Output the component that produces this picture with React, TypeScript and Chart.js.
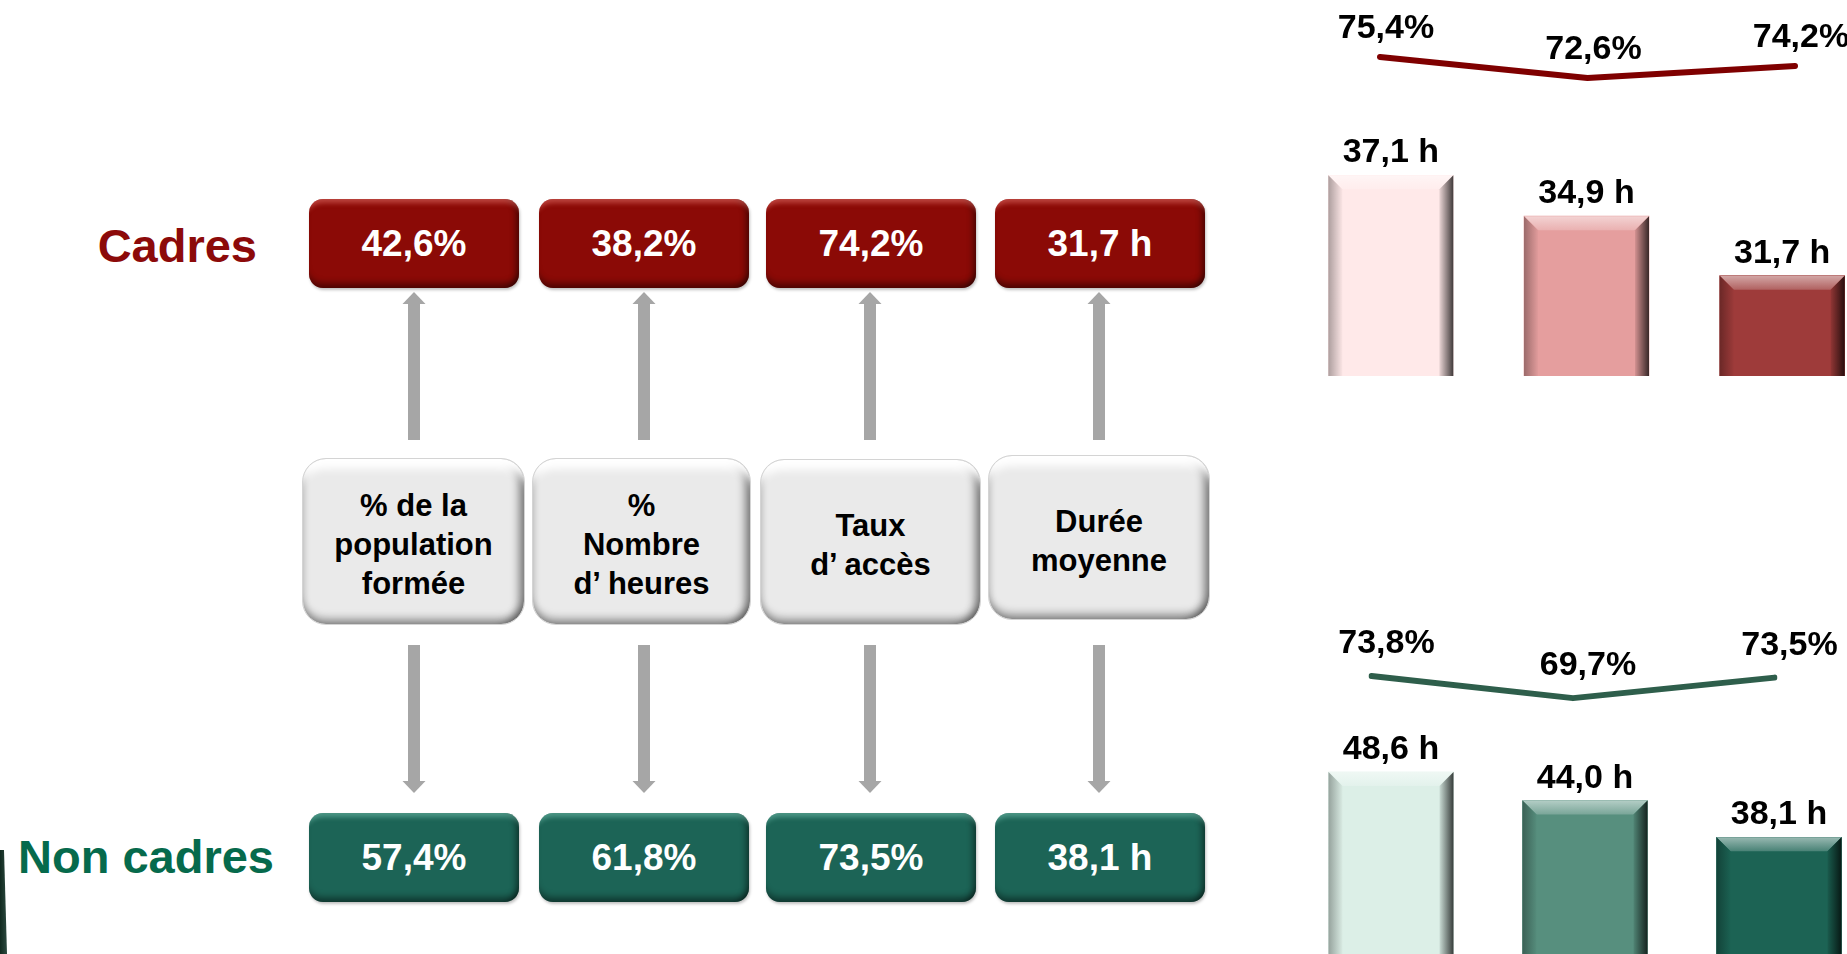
import React, { useEffect, useRef } from "react";
import { Chart, registerables } from "chart.js";

Chart.register(...registerables);

// ---------------- DATA ----------------
const metricLabels: string[][] = [
  ["% de la", "population", "formée"],
  ["%", "Nombre", "d’ heures"],
  ["Taux", "d’ accès"],
  ["Durée", "moyenne"],
];
const metricUnits = ["%", "%", "%", " h"];
const cadresMetrics = [42.6, 38.2, 74.2, 31.7];
const nonCadresMetrics = [57.4, 61.8, 73.5, 38.1];

const periods = ["1", "2", "3"];
const cadresHours = [37.1, 34.9, 31.7];
const cadresAccess = [75.4, 72.6, 74.2];
const nonCadresHours = [48.6, 44.0, 38.1];
const nonCadresAccess = [73.8, 69.7, 73.5];

// ---------------- STYLE ----------------
const FONT = '"Liberation Sans", Arial, Helvetica, sans-serif';
const RED = "#8B0A06";
const GREEN = "#1C6456";
const cadresBarColors = ["#FFE9E9", "#E59E9E", "#9E3B3A"];
const nonCadresBarColors = ["#DCEFE7", "#578F7E", "#1C6354"];

const fmt = (v: number, unit: string) => v.toFixed(1).replace(".", ",") + unit;

function hexToRgb(h: string) {
  const s = h.replace("#", "");
  return [parseInt(s.slice(0, 2), 16), parseInt(s.slice(2, 4), 16), parseInt(s.slice(4, 6), 16)];
}
function mix(c: string, target: "white" | "black", t: number) {
  const [r, g, b] = hexToRgb(c);
  const v = target === "white" ? 255 : 0;
  const m = (x: number) => Math.round(x + (v - x) * t);
  return `rgb(${m(r)},${m(g)},${m(b)})`;
}

const bevelPlugin = {
  id: "bevel",
  afterDatasetsDraw(chart: any) {
    const ctx = chart.ctx;
    chart.data.datasets.forEach((ds: any, di: number) => {
      const meta = chart.getDatasetMeta(di);
      if (meta.type !== "bar") return;
      meta.data.forEach((bar: any, i: number) => {
        const p = bar.getProps(["x", "y", "base", "width"], true);
        const L = p.x - p.width / 2;
        const R = p.x + p.width / 2;
        const T = Math.min(p.y, p.base);
        const B = Math.max(p.y, p.base);
        const b = Math.min(14, p.width / 4, (B - T) / 4);
        const color = ds.backgroundColor[i];
        ctx.save();
        // top
        let g = ctx.createLinearGradient(0, T, 0, T + b);
        g.addColorStop(0, mix(color, "white", 0.55));
        g.addColorStop(1, mix(color, "white", 0.2));
        ctx.fillStyle = g;
        ctx.beginPath();
        ctx.moveTo(L, T); ctx.lineTo(R, T); ctx.lineTo(R - b, T + b); ctx.lineTo(L + b, T + b); ctx.closePath();
        ctx.fill();
        // left
        g = ctx.createLinearGradient(L, 0, L + b, 0);
        g.addColorStop(0, mix(color, "black", 0.32));
        g.addColorStop(1, mix(color, "black", 0.02));
        ctx.fillStyle = g;
        ctx.beginPath();
        ctx.moveTo(L, T); ctx.lineTo(L + b, T + b); ctx.lineTo(L + b, B - b); ctx.lineTo(L, B); ctx.closePath();
        ctx.fill();
        // right
        g = ctx.createLinearGradient(R - b, 0, R, 0);
        g.addColorStop(0, mix(color, "black", 0.08));
        g.addColorStop(1, mix(color, "black", 0.75));
        ctx.fillStyle = g;
        ctx.beginPath();
        ctx.moveTo(R, T); ctx.lineTo(R, B); ctx.lineTo(R - b, B - b); ctx.lineTo(R - b, T + b); ctx.closePath();
        ctx.fill();
        // bottom
        g = ctx.createLinearGradient(0, B - b, 0, B);
        g.addColorStop(0, mix(color, "black", 0.18));
        g.addColorStop(1, mix(color, "black", 0.5));
        ctx.fillStyle = g;
        ctx.beginPath();
        ctx.moveTo(L, B); ctx.lineTo(R, B); ctx.lineTo(R - b, B - b); ctx.lineTo(L + b, B - b); ctx.closePath();
        ctx.fill();
        ctx.restore();
      });
    });
  },
};

const valueLabelPlugin = {
  id: "valueLabels",
  afterDatasetsDraw(chart: any, _args: any, opts: any) {
    const ctx = chart.ctx;
    const meta = chart.getDatasetMeta(0);
    const values = chart.data.datasets[0].data;
    ctx.save();
    ctx.font = `bold 34px ${FONT}`;
    ctx.fillStyle = "#000000";
    ctx.textAlign = "center";
    ctx.textBaseline = "alphabetic";
    meta.data.forEach((el: any, i: number) => {
      ctx.fillText(fmt(values[i], opts.unit), el.x + opts.dx, el.y + opts.dy);
    });
    ctx.restore();
  },
};

function barConfig(values: number[], colors: string[], min: number, max: number) {
  return {
    type: "bar",
    data: {
      labels: periods,
      datasets: [{ data: values, backgroundColor: colors, borderWidth: 0, barThickness: 125 }],
    },
    options: {
      animation: false,
      responsive: false,
      devicePixelRatio: 1,
      layout: { padding: 0 },
      scales: {
        x: { display: false },
        y: { display: false, min, max },
      },
      plugins: {
        legend: { display: false },
        tooltip: { enabled: false },
        valueLabels: { unit: " h", dx: 0, dy: -13 },
      },
    },
    plugins: [bevelPlugin, valueLabelPlugin],
  };
}

function lineConfig(values: number[], color: string, min: number, max: number, padL: number, padR: number, dx: number, dy: number) {
  return {
    type: "line",
    data: {
      labels: periods,
      datasets: [
        {
          data: values,
          borderColor: color,
          borderWidth: 6,
          pointRadius: 0,
          tension: 0,
          fill: false,
          borderCapStyle: "round",
          borderJoinStyle: "round",
        },
      ],
    },
    options: {
      animation: false,
      responsive: false,
      devicePixelRatio: 1,
      layout: { padding: { left: padL, right: padR, top: 0, bottom: 0 } },
      scales: {
        x: { display: false, offset: false },
        y: { display: false, min, max },
      },
      plugins: {
        legend: { display: false },
        tooltip: { enabled: false },
        valueLabels: { unit: "%", dx, dy },
      },
    },
    plugins: [valueLabelPlugin],
  };
}

function ChartBox({ left, top, width, height, config }: any) {
  const ref = useRef<HTMLCanvasElement | null>(null);
  useEffect(() => {
    const chart = new Chart(ref.current as HTMLCanvasElement, config);
    return () => chart.destroy();
  }, []);
  return (
    <div style={{ position: "absolute", left, top, width, height }}>
      <canvas ref={ref} width={width} height={height} style={{ width, height, display: "block" }} />
    </div>
  );
}

// ---------------- LAYOUT ----------------
const colCenters = [414, 644, 870, 1099];
const valueBoxLefts = [309, 539, 766, 995];
const grayBoxes = [
  { l: 302, w: 223, t: 458, h: 167 },
  { l: 532, w: 219, t: 458, h: 167 },
  { l: 760, w: 221, t: 459, h: 166 },
  { l: 988, w: 222, t: 455, h: 165 },
];

function ValueBox({ left, top, color, highlight, text }: any) {
  return (
    <div
      style={{
        position: "absolute",
        left,
        top,
        width: 210,
        height: 89,
        borderRadius: 14,
        background: color,
        boxShadow: `inset 0 11px 5px -7px ${highlight}, inset -6px 0 6px -3px rgba(0,0,0,0.45), inset 0 -9px 6px -4px rgba(0,0,0,0.4), 1px 2px 3px rgba(0,0,0,0.25)`,
        display: "flex",
        alignItems: "center",
        justifyContent: "center",
        color: "#ffffff",
        fontFamily: FONT,
        fontWeight: 700,
        fontSize: 37,
        lineHeight: 1,
      }}
    >
      {text}
    </div>
  );
}

export default function App() {
  return (
    <div
      style={{
        position: "absolute",
        left: 0,
        top: 0,
        width: 1847,
        height: 954,
        overflow: "hidden",
        background: "#ffffff",
        fontFamily: FONT,
      }}
    >
      {/* row labels */}
      <div
        style={{
          position: "absolute", left: 0, top: 222, width: 257, textAlign: "right",
          fontSize: 47, fontWeight: 700, lineHeight: 1, color: "#8C0A0A",
        }}
      >
        Cadres
      </div>
      <div
        style={{
          position: "absolute", left: 0, top: 833, width: 274, textAlign: "right",
          fontSize: 47, fontWeight: 700, lineHeight: 1, color: "#066A4C",
        }}
      >
        Non cadres
      </div>
      {/* thin edge stroke at bottom-left */}
      <div
        style={{
          position: "absolute", left: 0, top: 850, width: 7, height: 104,
          background: "linear-gradient(to right, #10291f, #2c4a40)",
          clipPath: "polygon(0 0, 4px 0, 7px 100%, 0 100%)",
        }}
      />

      {/* value boxes */}
      {cadresMetrics.map((v, i) => (
        <ValueBox key={"c" + i} left={valueBoxLefts[i]} top={199} color={RED}
          highlight="rgba(255,140,130,0.45)" text={fmt(v, metricUnits[i])} />
      ))}
      {nonCadresMetrics.map((v, i) => (
        <ValueBox key={"n" + i} left={valueBoxLefts[i]} top={813} color={GREEN}
          highlight="rgba(140,220,200,0.45)" text={fmt(v, metricUnits[i])} />
      ))}

      {/* metric boxes */}
      {metricLabels.map((lines, i) => {
        const g = grayBoxes[i];
        return (
          <div
            key={"g" + i}
            style={{
              position: "absolute", left: g.l, top: g.t, width: g.w, height: g.h,
              boxSizing: "border-box", borderRadius: 24, background: "#EAEAEA",
              border: "1px solid #d4d4d4",
              boxShadow:
                "inset 0 18px 8px -8px #ffffff, inset -9px 0 8px -4px rgba(0,0,0,0.45), inset 0 -9px 8px -4px rgba(0,0,0,0.38), inset 5px 0 6px -3px rgba(0,0,0,0.12)",
              display: "flex", flexDirection: "column", alignItems: "center", justifyContent: "center",
              paddingTop: 6, fontSize: 31, fontWeight: 700, lineHeight: "39px", color: "#000",
              textAlign: "center",
            }}
          >
            {lines.map((t, k) => (
              <div key={k}>{t}</div>
            ))}
          </div>
        );
      })}

      {/* arrows */}
      <svg style={{ position: "absolute", left: 0, top: 0 }} width={1847} height={954}>
        {colCenters.map((c, i) => (
          <g key={i} fill="#A6A6A6">
            <rect x={c - 6} y={304} width={12} height={136} />
            <polygon points={`${c - 11.5},304 ${c},292 ${c + 11.5},304`} />
            <rect x={c - 6} y={645} width={12} height={137} />
            <polygon points={`${c - 11.5},781 ${c},793 ${c + 11.5},781`} />
          </g>
        ))}
      </svg>

      {/* right-hand charts */}
      <ChartBox left={1293} top={100} width={587} height={276}
        config={barConfig(cadresHours, cadresBarColors, 26.3, 41.15)} />
      <ChartBox left={1330} top={0} width={517} height={120}
        config={lineConfig(cadresAccess, "#7F0000", 67.0, 83.0, 50, 52, 6, -19)} />
      <ChartBox left={1294} top={700} width={582} height={254}
        config={barConfig(nonCadresHours, nonCadresBarColors, 19.3, 60.2)} />
      <ChartBox left={1320} top={600} width={527} height={130}
        config={lineConfig(nonCadresAccess, "#2E5E4B", 63.8, 87.87, 51.5, 72.5, 15, -23)} />
    </div>
  );
}
